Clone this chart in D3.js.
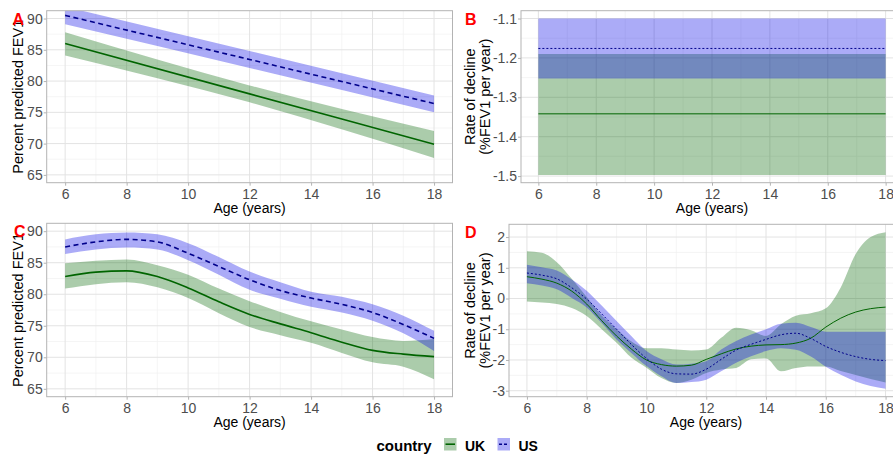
<!DOCTYPE html>
<html>
<head>
<meta charset="utf-8">
<script src="https://cdn.jsdelivr.net/npm/d3@7"></script>
<style>
body { margin: 0; background: #fff; }
text { font-family: "Liberation Sans", Arial, sans-serif; }
</style>
</head>
<body>
<div id="chart"></div>
<script>
var width = 893,
    height = 455;

// ---- data ----
var xTicks = [6, 8, 10, 12, 14, 16, 18];
var fevTicks = [65, 70, 75, 80, 85, 90];
var rateTicksB = [-1.5, -1.4, -1.3, -1.2, -1.1];
var rateTicksD = [-3, -2, -1, 0, 1, 2];

// A: linear model
var agesA = [6, 12, 18];
var ukA = [86.0, 77.95, 69.9];
var ukA_lo = [84.1, 76.6, 67.7];
var ukA_hi = [87.8, 79.3, 72.0];
var usA = [90.5, 83.45, 76.4];
var usA_lo = [89.1, 82.1, 75.0];
var usA_hi = [91.9, 84.8, 77.7];

// B: constant rate of decline
var agesB = [6, 18];
var ukB = [-1.342, -1.342];
var ukB_lo = [-1.497, -1.497];
var ukB_hi = [-1.19, -1.19];
var usB = [-1.176, -1.176];
var usB_lo = [-1.252, -1.252];
var usB_hi = [-1.1, -1.1];

// C: spline model
var agesC = [6, 7, 8, 9, 10, 11, 12, 13, 14, 15, 16, 17, 18];
var ukC = [82.8, 83.5, 83.7, 82.8, 81.0, 78.8, 76.8, 75.3, 73.9, 72.4, 71.1, 70.5, 70.1];
var ukC_lo = [80.9, 81.6, 81.9, 81.1, 79.4, 77.0, 74.8, 73.5, 72.3, 70.7, 69.2, 68.5, 66.5];
var ukC_hi = [84.9, 85.3, 85.5, 84.6, 83.1, 80.9, 78.9, 77.2, 75.7, 74.4, 73.2, 72.6, 72.9];
var usC = [87.5, 88.3, 88.7, 88.3, 86.5, 84.4, 82.3, 80.6, 79.4, 78.4, 77.1, 75.2, 73.0];
var usC_lo = [86.4, 87.1, 87.4, 87.1, 85.4, 83.1, 80.7, 79.3, 78.0, 77.1, 75.8, 73.8, 71.0];
var usC_hi = [88.7, 89.5, 89.8, 89.5, 88.1, 85.9, 83.6, 81.9, 80.4, 79.6, 78.4, 76.6, 74.2];

// D: derivative of spline
var agesD = [6, 6.5, 7, 7.5, 8, 8.5, 9, 9.5, 10, 10.5, 11, 11.5, 12,
             12.5, 13, 13.5, 14, 14.5, 15, 15.5, 16, 16.5, 17, 17.5, 18];
var ukD = [0.71, 0.63, 0.50, 0.24, -0.18, -0.72, -1.22, -1.65, -2.00, -2.15, -2.20, -2.17, -1.98,
           -1.80, -1.64, -1.55, -1.51, -1.50, -1.45, -1.29, -0.93, -0.64, -0.44, -0.33, -0.28];
var ukD_lo = [-0.10, -0.13, -0.18, -0.31, -0.57, -1.00, -1.44, -1.93, -2.25, -2.59, -2.75, -2.64, -2.42,
              -2.31, -2.26, -1.98, -1.95, -2.37, -2.26, -2.21, -2.21, -2.36, -2.49, -2.62, -2.73];
var ukD_hi = [1.54, 1.49, 1.18, 0.64, 0.05, -0.55, -1.00, -1.40, -1.62, -1.62, -1.66, -1.69, -1.66,
              -1.28, -0.95, -1.03, -1.22, -0.84, -0.56, -0.48, -0.32, 0.36, 1.45, 2.00, 2.16];
var usD = [0.83, 0.76, 0.64, 0.35, -0.02, -0.50, -1.00, -1.50, -1.95, -2.30, -2.45, -2.46, -2.30,
           -1.98, -1.68, -1.49, -1.33, -1.18, -1.13, -1.30, -1.56, -1.75, -1.89, -1.98, -2.02];
var usD_lo = [0.50, 0.42, 0.30, 0.02, -0.29, -0.80, -1.33, -1.78, -2.20, -2.53, -2.75, -2.72, -2.64,
              -2.37, -2.09, -1.88, -1.71, -1.62, -1.67, -1.89, -2.22, -2.48, -2.70, -2.85, -2.94];
var usD_hi = [1.10, 1.02, 0.91, 0.62, 0.25, -0.23, -0.73, -1.23, -1.71, -1.98, -2.15, -2.12, -2.04,
              -1.66, -1.38, -1.17, -1.00, -0.82, -0.79, -0.93, -1.08, -1.08, -1.08, -1.08, -1.08];

var countries = ["UK", "US"];

// ---- styles ----
var ukFill = "#006400", usFill = "#0000e6", fillOpacity = 0.33;
var ukLine = "#006400", usLine = "#00008b";

var svg = d3.select("#chart")
    .append("svg")
    .attr("width", width)
    .attr("height", height);

function minorBreaks(ticks, domain) {
    var out = [];
    var step = ticks[1] - ticks[0];
    var first = ticks[0] - step / 2;
    for (var v = first; v <= domain[1] + 1e-9; v += step) {
        if (v >= domain[0] && ticks.every(t => Math.abs(t - v) > 1e-9)) out.push(v);
    }
    return out;
}

function expand(ext) {
    var pad = (ext[1] - ext[0]) * 0.05;
    return [ext[0] - pad, ext[1] + pad];
}

function drawPanel(p) {
    var xDom = expand(d3.extent(p.ages));
    var x = d3.scaleLinear().domain(xDom).range([p.left, p.right]);
    var y = d3.scaleLinear().domain(p.yDomain).range([p.bottom, p.top]);

    var clipId = "clip" + p.label;
    svg.append("clipPath").attr("id", clipId)
        .append("rect")
        .attr("x", p.left).attr("y", p.top)
        .attr("width", p.right - p.left).attr("height", p.bottom - p.top);

    var g = svg.append("g");

    // grid
    var minorX = minorBreaks(xTicks, xDom);
    var minorY = minorBreaks(p.yTicks, p.yDomain);
    g.selectAll(".gxm").data(minorX).enter().append("line")
        .attr("x1", d => x(d)).attr("x2", d => x(d))
        .attr("y1", p.top).attr("y2", p.bottom)
        .style("stroke", "#f0f0f0").style("stroke-width", 0.7);
    g.selectAll(".gym").data(minorY).enter().append("line")
        .attr("x1", p.left).attr("x2", p.right)
        .attr("y1", d => y(d)).attr("y2", d => y(d))
        .style("stroke", "#f0f0f0").style("stroke-width", 0.7);
    g.selectAll(".gx").data(xTicks).enter().append("line")
        .attr("x1", d => x(d)).attr("x2", d => x(d))
        .attr("y1", p.top).attr("y2", p.bottom)
        .style("stroke", "#e3e3e3").style("stroke-width", 1);
    g.selectAll(".gy").data(p.yTicks).enter().append("line")
        .attr("x1", p.left).attr("x2", p.right)
        .attr("y1", d => y(d)).attr("y2", d => y(d))
        .style("stroke", "#e3e3e3").style("stroke-width", 1);

    // ribbons and lines
    var idx = d3.range(p.ages.length);
    var data = g.append("g").attr("clip-path", "url(#" + clipId + ")");
    var series = [
        {fill: ukFill, stroke: ukLine, mid: p.uk, lo: p.ukLo, hi: p.ukHi, dash: null},
        {fill: usFill, stroke: usLine, mid: p.us, lo: p.usLo, hi: p.usHi, dash: p.dash}
    ];
    series.forEach(function(s) {
        var area = d3.area()
            .x(i => x(p.ages[i]))
            .y0(i => y(s.lo[i]))
            .y1(i => y(s.hi[i]))
            .curve(d3.curveMonotoneX);
        data.append("path")
            .attr("d", area(idx))
            .style("fill", s.fill)
            .style("opacity", fillOpacity);
    });
    series.forEach(function(s) {
        var line = d3.line()
            .x(i => x(p.ages[i]))
            .y(i => y(s.mid[i]))
            .curve(d3.curveMonotoneX);
        data.append("path")
            .attr("d", line(idx))
            .style("fill", "none")
            .style("stroke", s.stroke)
            .style("stroke-width", p.lineWidth)
            .style("stroke-dasharray", s.dash);
    });

    // axes
    var xAxis = g.append("g")
        .attr("transform", "translate(0," + p.bottom + ")")
        .call(d3.axisBottom(x).tickValues(xTicks).tickSize(3).tickPadding(3));
    var yAxis = g.append("g")
        .attr("transform", "translate(" + p.left + ",0)")
        .call(d3.axisLeft(y).tickValues(p.yTicks).tickFormat(p.fmt).tickSize(3).tickPadding(1));
    [xAxis, yAxis].forEach(function(a) {
        a.select(".domain").remove();
        a.selectAll("line").style("stroke", "#b3b3b3");
        a.selectAll("text")
            .style("font-family", "'Liberation Sans', Arial, sans-serif")
            .style("font-size", "14px")
            .style("fill", "#4d4d4d");
    });

    // border
    g.append("rect")
        .attr("x", p.left).attr("y", p.top)
        .attr("width", p.right - p.left).attr("height", p.bottom - p.top)
        .style("fill", "none")
        .style("stroke", "#b3b3b3")
        .style("stroke-width", 1);

    // axis titles
    g.append("text")
        .attr("x", (p.left + Math.min(p.right, 903)) / 2)
        .attr("y", p.bottom + p.xTitleGap)
        .attr("text-anchor", "middle")
        .style("font-size", "14px")
        .style("fill", "#000")
        .text("Age (years)");

    var cy = (p.top + p.bottom) / 2;
    p.yTitle.forEach(function(t, k) {
        g.append("text")
            .attr("transform", "translate(" + p.titleX[k] + "," + cy + ") rotate(-90)")
            .attr("text-anchor", "middle")
            .style("font-size", "14.5px")
            .style("fill", "#000")
            .text(t);
    });

    // panel tag
    g.append("text")
        .attr("x", p.tagX)
        .attr("y", p.tagY)
        .style("font-size", "16px")
        .style("font-weight", 700)
        .style("fill", "#ff0000")
        .text(p.label);
}

var fevDomain = [63.75, 91.25];
var fmtInt = d => String(d);
var fmt1 = d => d.toFixed(1);

drawPanel({label: "A", ages: agesA, uk: ukA, ukLo: ukA_lo, ukHi: ukA_hi, us: usA, usLo: usA_lo, usHi: usA_hi,
    left: 46.7, right: 452.5, top: 10.7, bottom: 182.7, yDomain: fevDomain, yTicks: fevTicks, fmt: fmtInt,
    lineWidth: 1.6, dash: "5,3.5", yTitle: ["Percent predicted FEV1"], titleX: [22.5], tagX: 12.5, tagY: 25,
    xTitleGap: 30.5});

drawPanel({label: "B", ages: agesB, uk: ukB, ukLo: ukB_lo, ukHi: ukB_hi, us: usB, usLo: usB_lo, usHi: usB_hi,
    left: 521, right: 903, top: 10.7, bottom: 182.7,
    yDomain: expand([d3.min(ukB_lo.concat(usB_lo)), d3.max(ukB_hi.concat(usB_hi))]),
    yTicks: rateTicksB, fmt: fmt1, lineWidth: 1, dash: "2,2",
    yTitle: ["Rate of decline", "(%FEV1 per year)"], titleX: [475, 489.5], tagX: 465, tagY: 24.5,
    xTitleGap: 30.5});

drawPanel({label: "C", ages: agesC, uk: ukC, ukLo: ukC_lo, ukHi: ukC_hi, us: usC, usLo: usC_lo, usHi: usC_hi,
    left: 46.7, right: 452.5, top: 223.3, bottom: 396.7, yDomain: fevDomain, yTicks: fevTicks, fmt: fmtInt,
    lineWidth: 1.6, dash: "5,3.5", yTitle: ["Percent predicted FEV1"], titleX: [22.5], tagX: 14, tagY: 236.5,
    xTitleGap: 30.5});

drawPanel({label: "D", ages: agesD, uk: ukD, ukLo: ukD_lo, ukHi: ukD_hi, us: usD, usLo: usD_lo, usHi: usD_hi,
    left: 509, right: 903.5, top: 224.3, bottom: 396.7,
    yDomain: expand([d3.min(ukD_lo.concat(usD_lo)), d3.max(ukD_hi.concat(usD_hi))]),
    yTicks: rateTicksD, fmt: fmtInt, lineWidth: 1, dash: "2,2",
    yTitle: ["Rate of decline", "(%FEV1 per year)"], titleX: [475, 489.5], tagX: 465, tagY: 238,
    xTitleGap: 30.5});

// ---- legend ----
var legend = svg.append("g");
legend.append("text")
    .attr("x", 376.5)
    .attr("y", 450.5)
    .style("font-size", "15px")
    .style("font-weight", 700)
    .text("country");

var keyX = [444, 497.5];
countries.forEach(function(c, i) {
    var fill = i == 0 ? ukFill : usFill;
    var stroke = i == 0 ? ukLine : usLine;
    legend.append("rect")
        .attr("x", keyX[i]).attr("y", 438)
        .attr("width", 12.5).attr("height", 12.5)
        .style("fill", fill)
        .style("opacity", fillOpacity);
    legend.append("line")
        .attr("x1", keyX[i] + 1.5).attr("x2", keyX[i] + 11)
        .attr("y1", 444.2).attr("y2", 444.2)
        .style("stroke", stroke)
        .style("stroke-width", 1.6)
        .style("stroke-dasharray", i == 0 ? null : "3,2");
    legend.append("text")
        .attr("x", keyX[i] + 21)
        .attr("y", 450.5)
        .style("font-size", "14px")
        .style("font-weight", 700)
        .text(c);
});
</script>
</body>
</html>
